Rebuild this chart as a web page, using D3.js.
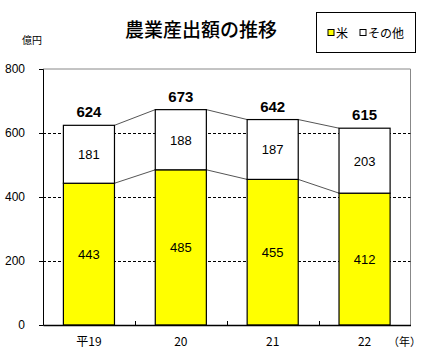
<!DOCTYPE html>
<html><head><meta charset="utf-8">
<script src="https://cdn.jsdelivr.net/npm/d3@7"></script>
<style>body{margin:0;background:#fff}svg{display:block}text{font-family:"Noto Sans CJK JP","Noto Sans",sans-serif}</style>
</head><body><svg id="c" width="426" height="364"></svg>
<script>
const categories = ["平19", "20", "21", "22"];
const rice = [443, 485, 455, 412];
const other = [181, 188, 187, 203];
const totals = [624, 673, 642, 615];
const yTicks = [0, 200, 400, 600, 800];
const seriesNames = ["米", "その他"];
const colors = ["#ffff00", "#ffffff"];

const svg = d3.select("#c");
const L = 43, R = 410.5, T = 69, B = 325;
const x = d3.scaleBand().domain(categories).range([L, R]).paddingInner(0.444).paddingOuter(0.222);
const y = d3.scaleLinear().domain([0, 800]).range([B, T]);
const font = "Liberation Sans, Arial, sans-serif";

// plot border (top/right gray)
svg.append("path").attr("d", `M${L},${T}H${R}V${B}`).attr("fill", "none").attr("stroke", "#888").attr("stroke-width", 1);

// gridlines
svg.append("g").selectAll("line").data(yTicks.filter(d => d > 0 && d < 800)).join("line")
  .attr("x1", L).attr("x2", R).attr("y1", d => Math.round(y(d)) + 0.5).attr("y2", d => Math.round(y(d)) + 0.5)
  .attr("stroke", "#000").attr("stroke-dasharray", "3,2");

// connectors
const stackTops = [rice, totals];
stackTops.forEach(arr => {
  for (let i = 0; i < categories.length - 1; i++) {
    svg.append("line")
      .attr("x1", x(categories[i]) + x.bandwidth()).attr("y1", y(arr[i]))
      .attr("x2", x(categories[i + 1])).attr("y2", y(arr[i + 1]))
      .attr("stroke", "#555").attr("stroke-width", 1);
  }
});

// bars
const g = svg.append("g");
categories.forEach((c, i) => {
  g.append("rect").attr("x", x(c)).attr("y", y(rice[i])).attr("width", x.bandwidth()).attr("height", y(0) - y(rice[i]))
    .attr("fill", colors[0]).attr("stroke", "#000").attr("stroke-width", 1.2);
  g.append("rect").attr("x", x(c)).attr("y", y(rice[i] + other[i])).attr("width", x.bandwidth()).attr("height", y(rice[i]) - y(rice[i] + other[i]))
    .attr("fill", colors[1]).attr("stroke", "#000").attr("stroke-width", 1.2);
  g.append("text").attr("x", x(c) + x.bandwidth() / 2).attr("y", y(rice[i] / 2) + 5).attr("text-anchor", "middle")
    .style("font-family", font).style("font-size", "13px").text(rice[i]);
  g.append("text").attr("x", x(c) + x.bandwidth() / 2).attr("y", y(rice[i] + other[i] / 2) + 5).attr("text-anchor", "middle")
    .style("font-family", font).style("font-size", "13px").text(other[i]);
  g.append("text").attr("x", x(c) + x.bandwidth() / 2).attr("y", y(totals[i]) - 8).attr("text-anchor", "middle")
    .style("font-family", font).style("font-size", "15px").style("font-weight", "bold").text(totals[i]);
});

// y axis
const ya = svg.append("g").attr("transform", `translate(${L},0)`)
  .call(d3.axisLeft(y).tickValues(yTicks).tickSize(4).tickPadding(14));
ya.select(".domain").attr("stroke", "#000");
ya.selectAll("text").style("font-family", font).style("font-size", "12px").attr("fill", "#000");

// x axis
const xa = svg.append("g").attr("transform", `translate(0,${B})`)
  .call(d3.axisBottom(x).tickSize(0).tickPadding(12));
xa.select(".domain").attr("stroke", "#000").attr("stroke-width", 1.5);
xa.selectAll("text").style("font-size", "12px").attr("fill", "#000");
// boundary ticks (inward)
const bounds = categories.slice(0, -1).map(c => x(c) + x.step() - x.step() * x.paddingInner() / 2);
svg.append("g").selectAll("line").data(bounds).join("line")
  .attr("x1", d => Math.round(d) + 0.5).attr("x2", d => Math.round(d) + 0.5).attr("y1", B).attr("y2", B - 4)
  .attr("stroke", "#000");

// unit labels
svg.append("text").attr("x", 22).attr("y", 44).style("font-size", "10px").text("億円");
svg.append("text").attr("x", 388).attr("y", 346).style("font-size", "11px").text("（年）");

// title
svg.append("text").attr("x", 201).attr("y", 37).attr("text-anchor", "middle").style("font-size", "19px").style("font-weight", "500").text("農業産出額の推移");

// legend
const lg = svg.append("g");
lg.append("rect").attr("x", 316.5).attr("y", 12.5).attr("width", 99).attr("height", 40).attr("fill", "#fff").attr("stroke", "#000");
const lx = [328, 360];
seriesNames.forEach((n, i) => {
  lg.append("rect").attr("x", lx[i]).attr("y", 29.5).attr("width", 6).attr("height", 6).attr("fill", colors[i]).attr("stroke", "#000");
  lg.append("text").attr("x", lx[i] + 8).attr("y", 38).style("font-size", "12px").text(n);
});
</script></body></html>
